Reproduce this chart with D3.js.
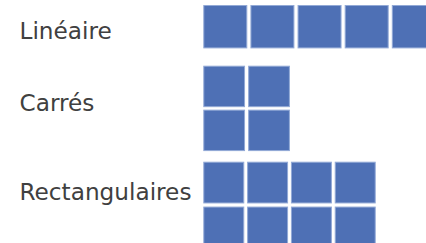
<!DOCTYPE html>
<html>
<head>
<meta charset="utf-8">
<script src="https://cdn.jsdelivr.net/npm/d3@7"></script>
<style>
html,body{margin:0;padding:0;background:#fff;overflow:hidden;}
svg{display:block;}
</style>
</head>
<body>
<svg id="chart" width="426" height="243"></svg>
<script>
// Data
const categories = ["Linéaire", "Carrés", "Rectangulaires"];
const rowCounts = [1, 2, 2];
const colCounts = [5, 2, 4];

// Layout (positions/sizes only)
const layout = [
  {top: 5.0, cell: 43.4, pitch: 46.5, vpitch: 46.5, labelY: 39},
  {top: 65.7, cell: 40.3, pitch: 43.3, vpitch: 42.7, labelY: 110.7},
  {top: 161.7, cell: 40.3, pitch: 43.1, vpitch: 43.3, labelY: 200}
];
const gridLeft = 203.3;
const labelX = 19.5;

const svg = d3.select("#chart");

categories.forEach((cat, i) => {
  const L = layout[i];
  const cols = d3.range(colCounts[i]);
  const rows = d3.range(rowCounts[i]);
  const x = d3.scaleBand().domain(cols)
    .range([gridLeft, gridLeft + L.pitch * colCounts[i]])
    .paddingInner(1 - L.cell / L.pitch).paddingOuter(0).align(0);
  const y = d3.scaleBand().domain(rows)
    .range([L.top, L.top + L.vpitch * rowCounts[i]])
    .paddingInner(1 - L.cell / L.vpitch).paddingOuter(0).align(0);

  const cells = [];
  rows.forEach(r => cols.forEach(c => cells.push({r, c})));

  const g = svg.append("g");
  g.selectAll("rect").data(cells).join("rect")
    .attr("x", d => x(d.c) + 0.5)
    .attr("y", d => y(d.r) + 0.5)
    .attr("width", x.bandwidth() - 1)
    .attr("height", y.bandwidth() - 1)
    .attr("fill", "#4e70b5")
    .attr("stroke", "#92a9d6")
    .attr("stroke-width", 1);

  svg.append("text")
    .attr("x", labelX)
    .attr("y", L.labelY)
    .attr("font-family", "DejaVu Sans")
    .attr("font-size", 23.2)
    .attr("fill", "#404040")
    .text(cat);
});
</script>
</body>
</html>
